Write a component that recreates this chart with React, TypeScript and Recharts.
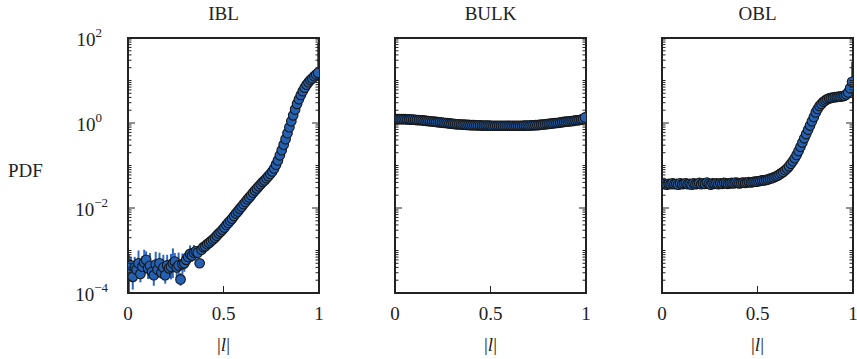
import React from 'react';
import { ScatterChart, Scatter, XAxis, YAxis, ErrorBar } from 'recharts';

// bin centres of |l|
const lBins = [
  0.005, 0.015, 0.025, 0.035, 0.045, 0.055, 0.065, 0.075, 0.085, 0.095,
  0.105, 0.115, 0.125, 0.135, 0.145, 0.155, 0.165, 0.175, 0.185, 0.195,
  0.205, 0.215, 0.225, 0.235, 0.245, 0.255, 0.265, 0.275, 0.285, 0.295,
  0.305, 0.315, 0.325, 0.335, 0.345, 0.355, 0.365, 0.375, 0.385, 0.395,
  0.405, 0.415, 0.425, 0.435, 0.445, 0.455, 0.465, 0.475, 0.485, 0.495,
  0.505, 0.515, 0.525, 0.535, 0.545, 0.555, 0.565, 0.575, 0.585, 0.595,
  0.605, 0.615, 0.625, 0.635, 0.645, 0.655, 0.665, 0.675, 0.685, 0.695,
  0.705, 0.715, 0.725, 0.735, 0.745, 0.755, 0.765, 0.775, 0.785, 0.795,
  0.805, 0.815, 0.825, 0.835, 0.845, 0.855, 0.865, 0.875, 0.885, 0.895,
  0.905, 0.915, 0.925, 0.935, 0.945, 0.955, 0.965, 0.975, 0.985, 0.995,
];

// log10(PDF) per bin
const iblLog = [
  -3.55, -3.35, -3.62, -3.40, -3.45, -3.30, -3.55, -3.38, -3.28, -3.22,
  -3.42, -3.36, -3.50, -3.58, -3.33, -3.45, -3.30, -3.52, -3.40, -3.58,
  -3.35, -3.42, -3.38, -3.30, -3.26, -3.40, -3.35, -3.68, -3.32, -3.30,
  -3.22, -3.15, -3.08, -3.12, -3.05, -3.02, -3.05, -3.30, -2.98, -2.92,
  -2.90, -2.85, -2.82, -2.78, -2.74, -2.70, -2.65, -2.60, -2.56, -2.51,
  -2.46, -2.40, -2.35, -2.30, -2.25, -2.19, -2.13, -2.08, -2.02, -1.97,
  -1.91, -1.86, -1.80, -1.75, -1.70, -1.64, -1.59, -1.54, -1.49, -1.44,
  -1.39, -1.35, -1.30, -1.25, -1.20, -1.14, -1.07, -0.98, -0.88, -0.76,
  -0.64, -0.51, -0.38, -0.24, -0.10, 0.04, 0.18, 0.32, 0.45, 0.56,
  0.66, 0.75, 0.83, 0.90, 0.96, 1.01, 1.05, 1.10, 1.14, 1.18,
];

const iblErr: (number | number[])[] = [
  0.45, 0.20, 0.30, 0.25, 0.15, 0.30, 0.20, 0.25, 0.30, 0.20,
  0.25, 0.30, 0.15, 0.25, 0.30, 0.20, 0.25, 0.15, 0.30, 0.20,
  0.25, 0.20, 0.30, 0.35, 0.20, 0.25, 0.30, 0.15, 0.25, 0.20,
  0.20, 0.15, 0.20, 0.15, 0.18, 0.12, 0.15, 0.10, 0.12, 0.14,
  0.10, 0.12, 0.09, 0.11, 0.08, 0.10, 0.08, 0.09, 0.07, 0.08,
  0.07, 0.08, 0.06, 0.07, 0.06, 0.05, 0.06, 0.05, 0.05, 0.04,
  0.05, 0.04, 0.04, 0.03, 0.04, 0.03, 0.03, 0.03, 0.03, 0.02,
  0.02, 0.02, 0.02, 0.02, 0.02, 0.02, 0.02, 0.02, 0.02, 0.02,
  0.02, 0.02, 0.02, 0.02, 0.02, 0.02, 0.02, 0.02, 0.02, 0.02,
  0.02, 0.02, 0.02, 0.02, 0.02, 0.02, 0.02, 0.02, 0.02, [0.03, 0.7],
];

const bulkLog = [
  0.09, 0.09, 0.09, 0.09, 0.09, 0.09, 0.085, 0.085, 0.08, 0.08,
  0.075, 0.07, 0.07, 0.065, 0.06, 0.055, 0.05, 0.045, 0.04, 0.035,
  0.03, 0.025, 0.02, 0.015, 0.01, 0.005, 0.0, -0.005, -0.01, -0.015,
  -0.02, -0.025, -0.03, -0.03, -0.035, -0.04, -0.04, -0.045, -0.045, -0.05,
  -0.05, -0.05, -0.055, -0.055, -0.055, -0.06, -0.06, -0.06, -0.06, -0.06,
  -0.065, -0.065, -0.065, -0.065, -0.065, -0.065, -0.065, -0.065, -0.065, -0.065,
  -0.065, -0.065, -0.065, -0.065, -0.065, -0.065, -0.065, -0.06, -0.06, -0.06,
  -0.06, -0.055, -0.055, -0.05, -0.05, -0.045, -0.04, -0.035, -0.03, -0.025,
  -0.02, -0.015, -0.01, -0.005, 0.0, 0.005, 0.01, 0.02, 0.025, 0.03,
  0.035, 0.04, 0.045, 0.05, 0.06, 0.065, 0.07, 0.08, 0.09, 0.13,
];

const oblLog = [
  -1.44, -1.43, -1.45, -1.43, -1.44, -1.42, -1.44, -1.43, -1.45, -1.42,
  -1.44, -1.43, -1.42, -1.44, -1.43, -1.45, -1.42, -1.44, -1.43, -1.41,
  -1.44, -1.42, -1.43, -1.40, -1.43, -1.45, -1.42, -1.43, -1.42, -1.44,
  -1.42, -1.43, -1.41, -1.42, -1.43, -1.42, -1.41, -1.42, -1.40, -1.41,
  -1.42, -1.41, -1.40, -1.41, -1.40, -1.39, -1.40, -1.39, -1.38, -1.38,
  -1.37, -1.36, -1.35, -1.35, -1.34, -1.33, -1.31, -1.30, -1.28, -1.26,
  -1.24, -1.21, -1.18, -1.15, -1.11, -1.07, -1.02, -0.96, -0.90, -0.83,
  -0.75, -0.66, -0.56, -0.46, -0.36, -0.26, -0.16, -0.06, 0.04, 0.14,
  0.25, 0.33, 0.40, 0.45, 0.50, 0.53, 0.56, 0.58, 0.59, 0.60,
  0.61, 0.61, 0.62, 0.62, 0.63, 0.64, 0.67, 0.72, 0.82, 0.97,
];

const oblErr: (number | number[])[] = [
  0.02, 0.02, 0.02, 0.02, 0.02, 0.02, 0.02, 0.02, 0.02, 0.02,
  0.02, 0.02, 0.02, 0.02, 0.02, 0.02, 0.02, 0.02, 0.02, 0.02,
  0.02, 0.02, 0.02, 0.02, 0.02, 0.02, 0.02, 0.02, 0.02, 0.02,
  0.02, 0.02, 0.02, 0.02, 0.02, 0.02, 0.02, 0.02, 0.02, 0.02,
  0.02, 0.02, 0.02, 0.02, 0.02, 0.02, 0.02, 0.02, 0.02, 0.02,
  0.02, 0.02, 0.02, 0.02, 0.02, 0.02, 0.02, 0.02, 0.02, 0.02,
  0.02, 0.02, 0.02, 0.02, 0.02, 0.02, 0.02, 0.02, 0.02, 0.02,
  0.02, 0.02, 0.02, 0.02, 0.02, 0.02, 0.02, 0.02, 0.02, 0.02,
  0.02, 0.02, 0.02, 0.02, 0.02, 0.02, 0.02, 0.02, 0.02, 0.02,
  0.02, 0.02, 0.02, 0.02, 0.02, 0.02, 0.02, 0.02, 0.03, [0.02, 0.47],
];

const panelTitles = ['IBL', 'BULK', 'OBL'];
const xTicks = [0, 0.5, 1];
const xTickLabels = ['0', '0.5', '1'];
const yMajor = [-4, -2, 0, 2];
const yLabel = 'PDF';

// log minor tick positions
const yMinor: number[] = [];
for (let n = -4; n < 2; n++) {
  for (let k = 1; k < 10; k++) {
    if (k === 1 && yMajor.includes(n)) continue;
    yMinor.push(n + Math.log10(k));
  }
}
const yTicks = [...yMajor, ...yMinor].sort((a, b) => a - b);

const W = 857;
const H = 359;
const TOP = 38;
const BOTTOM = 293;
const PW = 191;
const LEFTS = [128, 395, 662];
const INK = '#222222';
const FILL = '#2461b2';
const ERR = '#2d68c4';
const FONT = '"Liberation Serif", "DejaVu Serif", serif';

const frameLine = { stroke: INK, strokeWidth: 2, strokeLinecap: 'square' as const };

const dot = (p: any) => (
  <circle cx={p.cx} cy={p.cy} r={4.8} fill={FILL} stroke="#161616" strokeWidth={1.1} />
);

function Panel({ index, values, errors }: { index: number; values: number[]; errors?: (number | number[])[] }) {
  const left = LEFTS[index];
  const right = left + PW;
  const mid = left + PW / 2;
  const data = lBins.map((l, i) => ({ l, v: values[i], e: errors ? errors[i] : 0 }));

  const leftTick = (p: any) => {
    const v = p.payload.value;
    const major = yMajor.includes(v);
    return (
      <g>
        <line x1={left} x2={left + (major ? 7 : 3.5)} y1={p.y} y2={p.y} stroke={INK} strokeWidth={1} />
        {major && index === 0 && (
          <text x={v < 0 ? 108 : 102} y={p.y + 8} textAnchor="end" fontFamily={FONT} fontSize={19} fill={INK}>
            10
            <tspan dy={-9} fontSize={13}>{v < 0 ? `\u2212${-v}` : `${v}`}</tspan>
          </text>
        )}
      </g>
    );
  };
  const rightTick = (p: any) => {
    const major = yMajor.includes(p.payload.value);
    return <line x1={right} x2={right - (major ? 7 : 3.5)} y1={p.y} y2={p.y} stroke={INK} strokeWidth={1} />;
  };
  const bottomTick = (p: any) => {
    const i = xTicks.indexOf(p.payload.value);
    return (
      <g>
        <line x1={p.x} x2={p.x} y1={BOTTOM} y2={BOTTOM - 7} stroke={INK} strokeWidth={1} />
        <text x={p.x} y={320} textAnchor="middle" fontFamily={FONT} fontSize={19} fill={INK}>
          {xTickLabels[i]}
        </text>
      </g>
    );
  };
  const topTick = (p: any) => (
    <line x1={p.x} x2={p.x} y1={TOP} y2={TOP + 7} stroke={INK} strokeWidth={1} />
  );

  return (
    <div style={{ position: 'absolute', left: 0, top: 0 }}>
      <ScatterChart
        width={W}
        height={H}
        margin={{ top: TOP - 1, bottom: H - BOTTOM - 1, left: left - 1, right: W - right - 1 }}
      >
        <XAxis
          xAxisId="b"
          type="number"
          dataKey="l"
          domain={[0, 1]}
          ticks={xTicks}
          interval={0}
          allowDataOverflow
          height={1}
          tickLine={false}
          axisLine={frameLine}
          tick={bottomTick}
          label={() => (
            <text x={mid} y={351} textAnchor="middle" fontFamily={FONT} fontSize={19} fill={INK}>
              |<tspan fontStyle="italic">l</tspan>|
            </text>
          )}
        />
        <XAxis
          xAxisId="t"
          orientation="top"
          type="number"
          domain={[0, 1]}
          ticks={xTicks}
          interval={0}
          allowDataOverflow
          height={1}
          tickLine={false}
          axisLine={frameLine}
          tick={topTick}
          label={() => (
            <text x={mid} y={20} textAnchor="middle" fontFamily={FONT} fontSize={19} fill={INK}>
              {panelTitles[index]}
            </text>
          )}
        />
        <YAxis
          yAxisId="l"
          type="number"
          dataKey="v"
          domain={[-4, 2]}
          ticks={yTicks}
          interval={0}
          allowDataOverflow
          width={1}
          tickLine={false}
          axisLine={frameLine}
          tick={leftTick}
          label={
            index === 0
              ? () => (
                  <text x={8} y={177} fontFamily={FONT} fontSize={19} fill={INK}>
                    {yLabel}
                  </text>
                )
              : undefined
          }
        />
        <YAxis
          yAxisId="r"
          orientation="right"
          type="number"
          domain={[-4, 2]}
          ticks={yTicks}
          interval={0}
          allowDataOverflow
          width={1}
          tickLine={false}
          axisLine={frameLine}
          tick={rightTick}
        />
        <Scatter xAxisId="b" yAxisId="l" data={data} shape={dot} isAnimationActive={false}>
          {errors && (
            <ErrorBar dataKey="e" direction="y" width={0} stroke={ERR} strokeWidth={2} isAnimationActive={false} />
          )}
        </Scatter>
      </ScatterChart>
    </div>
  );
}

export default function App() {
  return (
    <div style={{ position: 'absolute', left: 0, top: 0, width: W, height: H, background: '#fff' }}>
      <Panel index={0} values={iblLog} errors={iblErr} />
      <Panel index={1} values={bulkLog} />
      <Panel index={2} values={oblLog} errors={oblErr} />
    </div>
  );
}
